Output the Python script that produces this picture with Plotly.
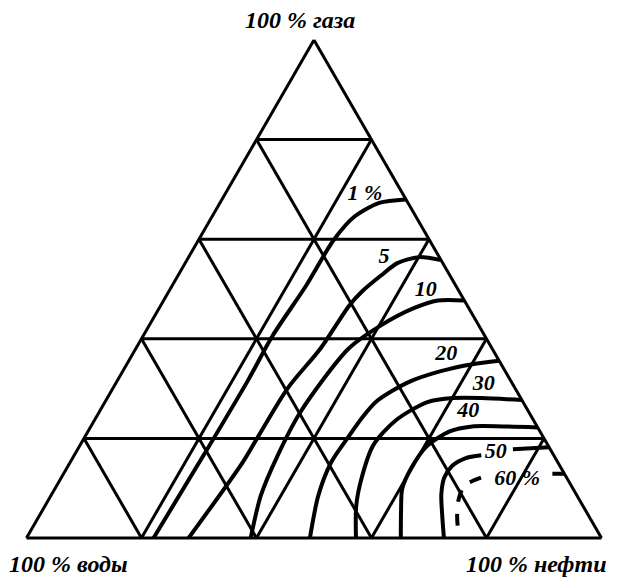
import plotly.graph_objects as go

# ternary diagram: gas (top), water (bottom left), oil (bottom right), values in %
# each contour is a list of (gas, water, oil) points, None marks a gap under a label

levels = ["1 %", "5", "10", "20", "30", "40", "50", "60 %"]

curve_1 = [(68.0, 0.0, 32.0), (67.3, 5.0, 27.7), (64.6, 10.6, 24.8), (59.8, 16.7, 23.5),
           (50.7, 26.0, 23.3), (40.6, 36.9, 22.5), (31.7, 45.6, 22.7), (16.8, 60.7, 22.5),
           (0.0, 77.9, 22.1)]
curve_5 = [(55.8, 0.0, 44.2), (56.4, 3.6, 40.0), (55.2, 7.9, 36.9), (52.7, 12.0, 35.3),
           (49.5, 16.9, 33.6), (46.7, 20.5, 32.8), (38.0, 29.9, 32.1), (30.1, 39.5, 30.4),
           (20.0, 49.9, 30.1), (15.2, 54.8, 30.0), (0.0, 71.8, 28.2)]
curve_10 = [(47.7, 0.0, 52.3), (47.7, 4.6, 47.7), (46.1, 9.7, 44.2), (42.6, 17.2, 40.2),
            (38.0, 25.0, 37.0), (25.3, 39.7, 35.0), (16.6, 48.0, 35.4), (8.5, 55.0, 36.5),
            (0.0, 61.0, 39.0)]
curve_20 = [(35.6, 0.0, 64.4), (34.9, 5.0, 60.1), (33.5, 11.2, 55.3), (31.3, 17.9, 50.8),
            (27.5, 25.3, 47.2), (24.2, 29.5, 46.3), (20.0, 34.2, 45.8), (15.2, 39.4, 45.4),
            (8.5, 45.0, 46.5), (0.0, 50.7, 49.3)]
curve_30 = [(27.7, 0.0, 72.3), (28.1, 6.8, 65.1), (28.1, 11.7, 60.2), (27.3, 16.6, 56.1),
            (23.6, 24.0, 52.4), (18.6, 30.4, 51.0), (11.9, 35.8, 52.3), (6.5, 39.4, 54.1),
            (0.0, 42.7, 57.3)]
curve_40 = [(22.2, 0.0, 77.8), (22.4, 5.9, 71.7), (22.4, 11.3, 66.3), (21.4, 15.7, 62.9),
            (18.4, 21.2, 60.4), (14.1, 26.0, 59.9), (9.9, 29.7, 60.4), (5.7, 32.0, 62.3),
            (0.0, 34.9, 65.1)]
curve_50 = [(18.2, 0.0, 81.8), (17.8, 6.5, 75.7), None, (16.6, 12.6, 70.8), (16.0, 15.7, 68.3),
            (14.5, 18.7, 66.8), (12.1, 21.3, 66.6), (8.7, 23.5, 67.8), (4.6, 25.4, 70.0),
            (0.0, 27.4, 72.6)]
curve_60 = [(12.9, 0.0, 87.1), (12.9, 2.4, 84.7), None, (12.1, 14.9, 73.0), (10.5, 18.6, 70.9),
            (7.7, 21.0, 71.3), (4.2, 23.0, 72.8), (0.0, 24.8, 75.2)]

curves = [curve_1, curve_5, curve_10, curve_20, curve_30, curve_40, curve_50, curve_60]

# where the level labels sit (gas, water, oil)
label_pos = [(68.9, 6.7, 24.4), (56.4, 9.6, 34.0), (49.7, 5.7, 44.6), (36.8, 8.6, 54.6),
             (30.9, 5.0, 64.1), (25.3, 10.5, 64.2), (17.2, 9.8, 73.0), (11.7, 8.8, 79.5)]

corner_titles = ["100 % газа", "100 % воды", "100 % нефти"]

FONT = "Liberation Serif"


def split(points):
    """turn a list of triples into a, b, c lists (None -> gap)"""
    a, b, c = [], [], []
    for p in points:
        if p is None:
            a.append(None); b.append(None); c.append(None)
        else:
            a.append(p[0]); b.append(p[1]); c.append(p[2])
    return a, b, c


fig = go.Figure()

for name, pts in zip(levels, curves):
    a, b, c = split(pts)
    fig.add_trace(go.Scatterternary(
        a=a, b=b, c=c,
        mode="lines",
        name=name,
        line=dict(color="black", width=4, shape="spline", smoothing=0.8,
                  dash="dash" if name == "60 %" else "solid"),
        hoverinfo="skip",
    ))

la, lb, lc = split(label_pos)
fig.add_trace(go.Scatterternary(
    a=la, b=lb, c=lc,
    mode="text",
    text=levels,
    textposition="middle center",
    textfont=dict(family=FONT, size=22, color="black", weight="bold", style="italic"),
    hoverinfo="skip",
))

axis = dict(
    min=0, tick0=0, dtick=20,
    showgrid=True, gridcolor="black", gridwidth=2.5,
    showline=True, linecolor="black", linewidth=3,
    showticklabels=False, ticks="",
    title=dict(text=""),
)

fig.update_layout(
    width=618, height=583,
    margin=dict(l=0, r=0, t=0, b=0, autoexpand=False),
    paper_bgcolor="white",
    showlegend=False,
    ternary=dict(
        sum=100,
        bgcolor="white",
        domain=dict(x=[0.0299, 0.9603], y=[0.0909, 0.9451]),
        aaxis=axis, baxis=axis, caxis=axis,
    ),
)

# corner captions
title_font = dict(family=FONT, size=24, color="black", weight="bold", style="italic")
for txt, x, y in zip(corner_titles, [0.4725, 0.0971, 0.855], [0.9794, 0.0463, 0.0463]):
    fig.add_annotation(text=txt, x=x, y=y, xref="paper", yref="paper",
                       xanchor="center", yanchor="middle",
                       showarrow=False, font=title_font)

fig.write_html("out.html")
